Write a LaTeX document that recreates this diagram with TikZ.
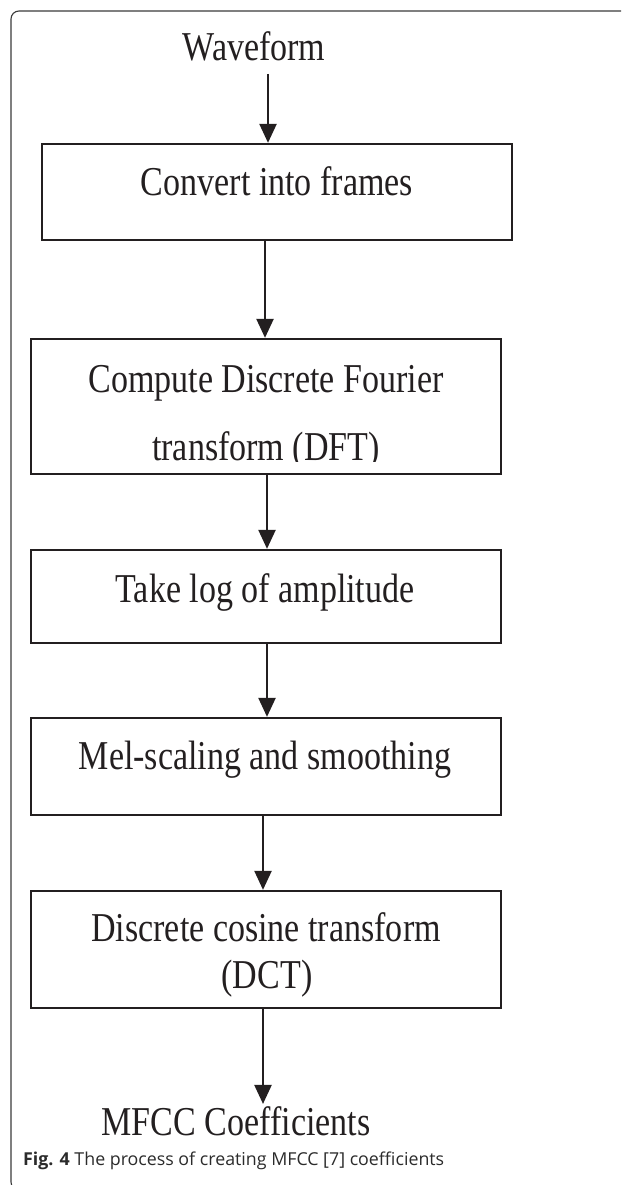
\documentclass[tikz,border=0pt]{standalone}
\usepackage{fontspec}
\setmainfont{Liberation Serif}[FakeStretch=0.83]
\newfontfamily\capfont{Open Sans}
\usetikzlibrary{arrows.meta}
\definecolor{ink}{HTML}{231F20}
\definecolor{framecol}{HTML}{3A3A3A}
\definecolor{capcol}{HTML}{2B2B2B}
\tikzset{
  stepbox/.style={draw=ink, line width=2.3pt, rectangle, inner sep=0pt, minimum width=470pt},
  txt/.style={inner sep=0pt, anchor=base, text=ink, font=\fontsize{41pt}{47pt}\selectfont},
  arr/.style={draw=ink, line width=2.3pt, -{Triangle[width=17pt,length=19pt]}},
}
\begin{document}
\begin{tikzpicture}[x=1pt, y=-1pt]
\useasboundingbox (0,0) rectangle (621,1185);
\clip (0,0) rectangle (621,1185);
% outer frame
\draw[framecol, line width=1.1pt, rounded corners=8pt] (630,11) -- (11,11) -- (11,1190) -- (40,1190);
% arrow x positions
\coordinate (x1) at (268,0);
\coordinate (x2) at (265,0);
\coordinate (x3) at (267,0);
\coordinate (x4) at (267,0);
\coordinate (x5) at (263,0);
\coordinate (x6) at (263,0);
% boxes
\node[stepbox, minimum height=96pt]  (b1) at (277,192) {};
\node[stepbox, minimum height=135pt] (b2) at (266,406.5) {};
\node[stepbox, minimum height=93pt]  (b3) at (266,596.5) {};
\node[stepbox, minimum height=97pt]  (b4) at (266,766.5) {};
\node[stepbox, minimum height=117pt] (b5) at (266,949.5) {};
% texts
\node[txt] (wave) at (254,61) {Waveform};
\node[txt] (t1) at (277,196) {Convert into frames};
\node[txt] (t2a) at (266,392) {Compute Discrete Fourier};
\begin{scope}
\clip (31,339) rectangle (501,461);
\node[txt] (t2b) at (266,460) {transform (DFT)};
\end{scope}
\node[txt] (t3) at (265,602) {Take log of amplitude};
\node[txt] (t4) at (265,769) {Mel-scaling and smoothing};
\node[txt] (t5a) at (266,941) {Discrete cosine transform};
\node[txt] (t5b) at (267,988) {(DCT)};
\node[txt] (mfcc) at (236,1135) {MFCC Coefficients};
\node[anchor=base west, inner sep=0pt, text=capcol, font=\capfont\fontsize{17.8pt}{20pt}\selectfont] (cap) at (23,1165) {\textbf{Fig. 4} The process of creating MFCC [7] coefficients};
% arrows
\draw[arr] ([yshift=-12pt]wave.south -| x1) -- (b1.north -| x1);
\draw[arr] (b1.south -| x2) -- (b2.north -| x2);
\draw[arr] (b2.south -| x3) -- (b3.north -| x3);
\draw[arr] (b3.south -| x4) -- (b4.north -| x4);
\draw[arr] (b4.south -| x5) -- (b5.north -| x5);
\draw[arr] (b5.south -| x6) -- ([yshift=2pt]mfcc.north -| x6);
\end{tikzpicture}
\end{document}
